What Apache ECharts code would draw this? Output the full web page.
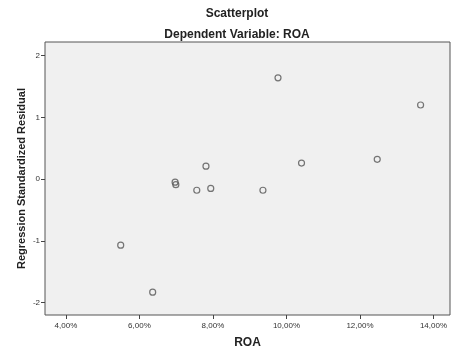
<!DOCTYPE html>
<html>
<head>
<meta charset="utf-8">
<script src="https://cdn.jsdelivr.net/npm/echarts@6/dist/echarts.min.js"></script>
<style>
  html, body { margin: 0; padding: 0; background: #fff; }
  #chart { width: 452px; height: 351px; }
</style>
</head>
<body>
<div id="chart"></div>
<script>
// ROA (%) vs regression standardized residual
const roa = [9.77, 7.81, 6.97, 6.99, 7.56, 7.94, 9.36, 5.49, 6.36, 13.65, 10.41, 12.47];
const residual = [1.64, 0.21, -0.05, -0.09, -0.18, -0.15, -0.18, -1.07, -1.83, 1.20, 0.26, 0.32];
const xTicks = [4, 6, 8, 10, 12, 14];
const yTicks = [-2, -1, 0, 1, 2];

const chart = echarts.init(document.getElementById("chart"));
const font = "Liberation Sans, Arial, sans-serif";
const points = roa.map((v, i) => [v, residual[i]]);

const option = {
  backgroundColor: "#fff",
  animation: false,
  title: [
    {
      text: "Scatterplot",
      left: 232,
      top: 3,
      textAlign: "center",
      textStyle: { fontFamily: font, fontSize: 12, fontWeight: "bold", color: "#222" },
    },
    {
      text: "Dependent Variable: ROA",
      left: 232,
      top: 24,
      textAlign: "center",
      textStyle: { fontFamily: font, fontSize: 12, fontWeight: "bold", color: "#222" },
    },
  ],
  grid: {
    left: 45,
    right: 2,
    top: 42,
    bottom: 36,
    outerBoundsMode: "none",
    show: true,
    backgroundColor: "#f0f0f0",
    borderColor: "#555",
    borderWidth: 1,
  },
  xAxis: {
    type: "value",
    min: 3.43,
    max: 14.45,
    name: "ROA",
    nameLocation: "middle",
    nameGap: 22,
    nameMoveOverlap: false,
    nameTextStyle: { fontFamily: font, fontSize: 12, fontWeight: "bold", color: "#222" },
    axisLine: { show: false, onZero: false },
    axisTick: { show: true, length: 4, customValues: xTicks, lineStyle: { color: "#444" } },
    axisLabel: {
      customValues: xTicks,
      fontFamily: font,
      fontSize: 8,
      color: "#333",
      margin: 7,
      formatter: (v) => v.toFixed(2).replace(".", ",") + "%",
    },
    splitLine: { show: false },
  },
  yAxis: {
    type: "value",
    min: -2.2,
    max: 2.22,
    name: "Regression Standardized Residual",
    nameLocation: "middle",
    nameRotate: 90,
    nameGap: 18,
    nameMoveOverlap: false,
    nameTextStyle: { fontFamily: font, fontSize: 11, fontWeight: "bold", color: "#222" },
    axisLine: { show: false, onZero: false },
    axisTick: { show: true, length: 4, customValues: yTicks, lineStyle: { color: "#444" } },
    axisLabel: {
      customValues: yTicks,
      fontFamily: font,
      fontSize: 8,
      color: "#333",
      margin: 5,
    },
    splitLine: { show: false },
  },
  series: [
    {
      type: "scatter",
      data: points,
      symbol: "circle",
      symbolSize: 6,
      itemStyle: { color: "rgba(0,0,0,0)", borderColor: "#555", borderWidth: 1.2 },
    },
  ],
};
chart.setOption(option);
</script>
</body>
</html>
